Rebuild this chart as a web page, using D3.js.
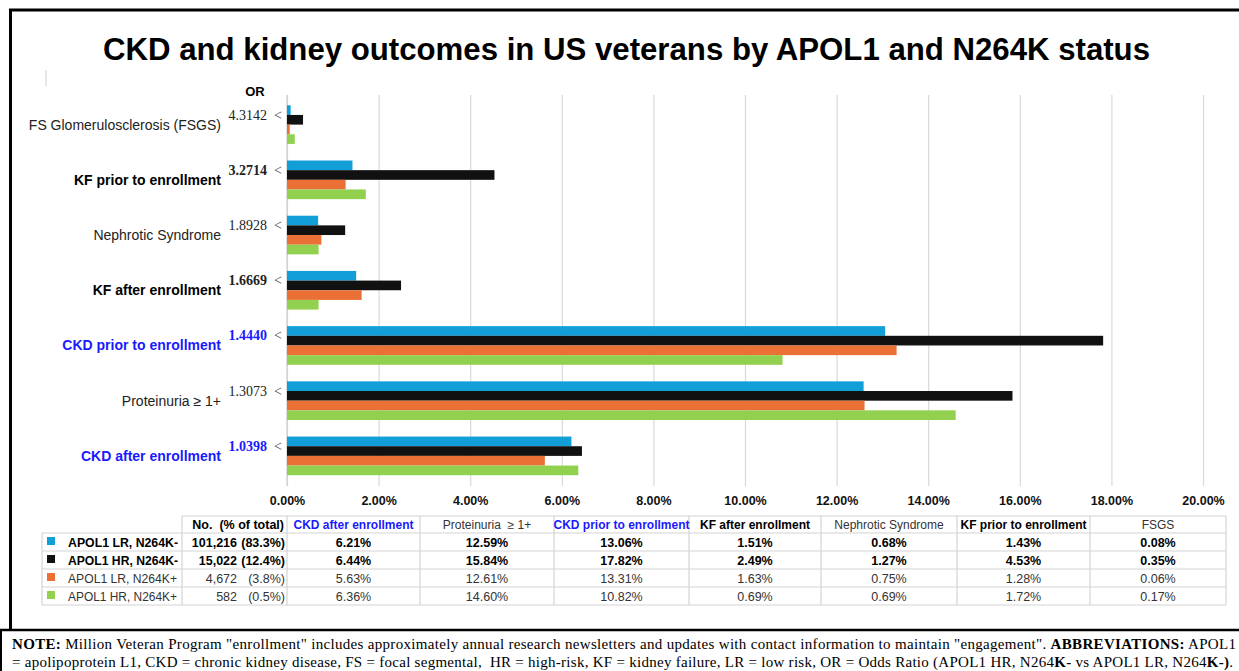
<!DOCTYPE html>
<html>
<head>
<meta charset="utf-8">
<script src="https://cdn.jsdelivr.net/npm/d3@7"></script>
<style>
  html, body { margin: 0; padding: 0; background: #fff; }
  svg { display: block; }
</style>
</head>
<body>
<svg id="chart" width="1239" height="671"></svg>
<script>
// ---------------- DATA ----------------
const title = "CKD and kidney outcomes in US veterans by APOL1 and N264K status";
const categories = [
  "FS Glomerulosclerosis (FSGS)",
  "KF prior to enrollment",
  "Nephrotic Syndrome",
  "KF after enrollment",
  "CKD prior to enrollment",
  "Proteinuria \u2265 1+",
  "CKD after enrollment"
];
const oddsRatios = ["4.3142", "3.2714", "1.8928", "1.6669", "1.4440", "1.3073", "1.0398"];
const groups = ["APOL1 LR, N264K-", "APOL1 HR, N264K-", "APOL1 LR, N264K+", "APOL1 HR, N264K+"];
// values (%) in category order above
const lrNeg = [0.08, 1.43, 0.68, 1.51, 13.06, 12.59, 6.21];
const hrNeg = [0.35, 4.53, 1.27, 2.49, 17.82, 15.84, 6.44];
const lrPos = [0.06, 1.28, 0.75, 1.63, 13.31, 12.61, 5.63];
const hrPos = [0.17, 1.72, 0.69, 0.69, 10.82, 14.60, 6.36];
const seriesValues = [lrNeg, hrNeg, lrPos, hrPos];
const counts = ["101,216", "15,022", "4,672", "582"];
const shares = ["(83.3%)", "(12.4%)", "(3.8%)", "(0.5%)"];
const xTicks = [0, 2, 4, 6, 8, 10, 12, 14, 16, 18, 20];
// table column order (category names)
const tableColumns = [
  "CKD after enrollment",
  "Proteinuria \u2265 1+",
  "CKD prior to enrollment",
  "KF after enrollment",
  "Nephrotic Syndrome",
  "KF prior to enrollment",
  "FS Glomerulosclerosis (FSGS)"
];
const tableHeaders = ["CKD after enrollment", "Proteinuria  \u2265 1+", "CKD prior to enrollment",
  "KF after enrollment", "Nephrotic Syndrome", "KF prior to enrollment", "FSGS"];

// ---------------- STYLES ----------------
const colors = ["#129fd8", "#111111", "#ea7035", "#92d050"];
const boldCats = new Set(["KF prior to enrollment", "KF after enrollment", "CKD prior to enrollment", "CKD after enrollment"]);
const blueCats = new Set(["CKD prior to enrollment", "CKD after enrollment"]);
const blue = "#1a1aff";
const sans = "Arial, 'Liberation Sans', Helvetica, sans-serif";
const serif = "'Times New Roman', 'Liberation Serif', serif";

const svg = d3.select("#chart");

// frame
svg.append("line").attr("x1", 9).attr("x2", 1239).attr("y1", 10).attr("y2", 10)
  .attr("stroke", "#000").attr("stroke-width", 3);
svg.append("line").attr("x1", 10.5).attr("x2", 10.5).attr("y1", 9).attr("y2", 631)
  .attr("stroke", "#000").attr("stroke-width", 3);
svg.append("line").attr("x1", 0).attr("x2", 1239).attr("y1", 630).attr("y2", 630)
  .attr("stroke", "#000").attr("stroke-width", 2.5);
svg.append("line").attr("x1", 1).attr("x2", 1).attr("y1", 630).attr("y2", 671)
  .attr("stroke", "#000").attr("stroke-width", 2);
svg.append("line").attr("x1", 46).attr("x2", 46).attr("y1", 70).attr("y2", 86)
  .attr("stroke", "#ccc").attr("stroke-width", 1);

// title
svg.append("text").attr("x", 103).attr("y", 60)
  .attr("font-family", sans).attr("font-weight", "bold").attr("font-size", 32)
  .attr("textLength", 1047).attr("lengthAdjust", "spacingAndGlyphs")
  .attr("fill", "#000").text(title);

// scales
const plotTop = 95, plotBottom = 486;
const x = d3.scaleLinear().domain([0, 20]).range([287, 1203]);
const y = d3.scaleBand().domain(categories).range([97, 483.5]).paddingInner(0.3).paddingOuter(0.15);
const inner = d3.scaleBand().domain(groups).range([0, y.bandwidth()]);

// gridlines + tick labels
const xAxis = d3.axisBottom(x).tickValues(xTicks)
  .tickSize(-(plotBottom - plotTop)).tickPadding(10)
  .tickFormat(d => d3.format(".2f")(d) + "%");
const gx = svg.append("g").attr("transform", `translate(0,${plotBottom})`).call(xAxis);
gx.select(".domain").remove();
gx.selectAll(".tick line").attr("stroke", "#d9d9d9").attr("stroke-width", 1.2);
gx.selectAll(".tick text").attr("font-family", sans).attr("font-weight", "bold")
  .attr("font-size", 12.5).attr("fill", "#111");

// y axis line
svg.append("line").attr("x1", x(0)).attr("x2", x(0)).attr("y1", plotTop).attr("y2", plotBottom)
  .attr("stroke", "#cfcfcf").attr("stroke-width", 1.2);

// bars
groups.forEach((g, gi) => {
  svg.append("g").selectAll("rect").data(categories).join("rect")
    .attr("x", x(0))
    .attr("y", c => y(c) + inner(g))
    .attr("width", (c, i) => x(seriesValues[gi][i]) - x(0))
    .attr("height", inner.bandwidth())
    .attr("fill", colors[gi]);
});

// category labels, OR values
svg.append("text").attr("x", 255).attr("y", 96).attr("text-anchor", "middle")
  .attr("font-family", sans).attr("font-weight", "bold").attr("font-size", 13).text("OR");

categories.forEach((c, i) => {
  const cy = y(c) + y.bandwidth() / 2;
  const bold = boldCats.has(c), isBlue = blueCats.has(c);
  svg.append("text").attr("x", 221).attr("y", cy + 5).attr("text-anchor", "end")
    .attr("font-family", sans).attr("font-size", 14)
    .attr("font-weight", bold ? "bold" : "normal")
    .attr("fill", isBlue ? blue : (bold ? "#000" : "#222")).text(c);
  svg.append("text").attr("x", 267).attr("y", cy - 5).attr("text-anchor", "end")
    .attr("font-family", serif).attr("font-size", 14)
    .attr("font-weight", bold ? "bold" : "normal")
    .attr("fill", isBlue ? blue : "#222").text(oddsRatios[i]);
  svg.append("text").attr("x", 274).attr("y", cy - 5)
    .attr("font-family", serif).attr("font-size", 14).attr("fill", "#444").text("<");
});

// ---------------- TABLE ----------------
const colEdges = [182, 287, 420, 554, 689, 821, 957, 1090, 1226];
const rowEdges = [516, 533, 551, 569, 587, 605];
const gridColor = "#d4d4d4";
const tg = svg.append("g");
// horizontal lines
rowEdges.forEach((ry, ri) => {
  tg.append("line").attr("x1", ri === 0 ? 182 : 42).attr("x2", 1226)
    .attr("y1", ry).attr("y2", ry).attr("stroke", gridColor).attr("stroke-width", 1.2);
});
// vertical lines
[42].concat(colEdges).forEach(cx => {
  tg.append("line").attr("x1", cx).attr("x2", cx)
    .attr("y1", cx === 42 ? rowEdges[1] : rowEdges[0]).attr("y2", rowEdges[5])
    .attr("stroke", gridColor).attr("stroke-width", 1.2);
});
// header
tg.append("text").attr("x", 284).attr("y", 529).attr("text-anchor", "end")
  .attr("font-family", sans).attr("font-size", 12.5).attr("font-weight", "bold")
  .attr("fill", "#000").attr("xml:space", "preserve").text("No.  (% of total)");
tableColumns.forEach((c, j) => {
  const cx = (colEdges[j + 1] + colEdges[j + 2]) / 2;
  const bold = boldCats.has(c), isBlue = blueCats.has(c);
  tg.append("text").attr("x", cx).attr("y", 529).attr("text-anchor", "middle")
    .attr("font-family", sans).attr("font-size", 12)
    .attr("font-weight", bold ? "bold" : "normal")
    .attr("fill", isBlue ? blue : (bold ? "#000" : "#333"))
    .attr("xml:space", "preserve").text(tableHeaders[j]);
});
// rows
groups.forEach((g, gi) => {
  const ry = (rowEdges[gi + 1] + rowEdges[gi + 2]) / 2 + 4.5;
  const bold = gi < 2;
  const fw = bold ? "bold" : "normal";
  const fc = bold ? "#000" : "#333";
  tg.append("rect").attr("x", 47).attr("y", ry - 9.5).attr("width", 8).attr("height", 8)
    .attr("fill", colors[gi]);
  tg.append("text").attr("x", 68).attr("y", ry).attr("font-family", sans)
    .attr("font-size", 12).attr("font-weight", fw).attr("fill", fc)
    .attr("textLength", bold ? 110 : 109).attr("lengthAdjust", "spacingAndGlyphs").text(g);
  tg.append("text").attr("x", 237).attr("y", ry).attr("text-anchor", "end").attr("font-family", sans)
    .attr("font-size", 12.5).attr("font-weight", fw).attr("fill", fc).text(counts[gi]);
  tg.append("text").attr("x", 285).attr("y", ry).attr("text-anchor", "end").attr("font-family", sans)
    .attr("font-size", 12.5).attr("font-weight", fw).attr("fill", fc).text(shares[gi]);
  tableColumns.forEach((c, j) => {
    const ci = categories.indexOf(c);
    const cx = (colEdges[j + 1] + colEdges[j + 2]) / 2;
    tg.append("text").attr("x", cx).attr("y", ry).attr("text-anchor", "middle")
      .attr("font-family", sans).attr("font-size", 12.5).attr("font-weight", fw).attr("fill", fc)
      .text(d3.format(".2f")(seriesValues[gi][ci]) + "%");
  });
});

// ---------------- NOTE ----------------
const n1 = svg.append("text").attr("x", 12).attr("y", 649).attr("font-family", serif)
  .attr("font-size", 15).attr("fill", "#000").attr("textLength", 1224).attr("lengthAdjust", "spacing");
n1.append("tspan").attr("font-weight", "bold").text("NOTE:");
n1.append("tspan").text(" Million Veteran Program \"enrollment\" includes approximately annual research newsletters and updates with contact information to maintain \"engagement\". ");
n1.append("tspan").attr("font-weight", "bold").text("ABBREVIATIONS:");
n1.append("tspan").text(" APOL1");
const n2 = svg.append("text").attr("x", 12).attr("y", 667).attr("font-family", serif)
  .attr("font-size", 15).attr("fill", "#000").attr("textLength", 1221).attr("lengthAdjust", "spacing")
  .attr("xml:space", "preserve");
n2.append("tspan").text("= apolipoprotein L1, CKD = chronic kidney disease, FS = focal segmental,  HR = high-risk, KF = kidney failure, LR = low risk, OR = Odds Ratio (APOL1 HR, N264");
n2.append("tspan").attr("font-weight", "bold").text("K-");
n2.append("tspan").text(" vs APOL1 LR, N264");
n2.append("tspan").attr("font-weight", "bold").text("K-)");
n2.append("tspan").text(".");
</script>
</body>
</html>
